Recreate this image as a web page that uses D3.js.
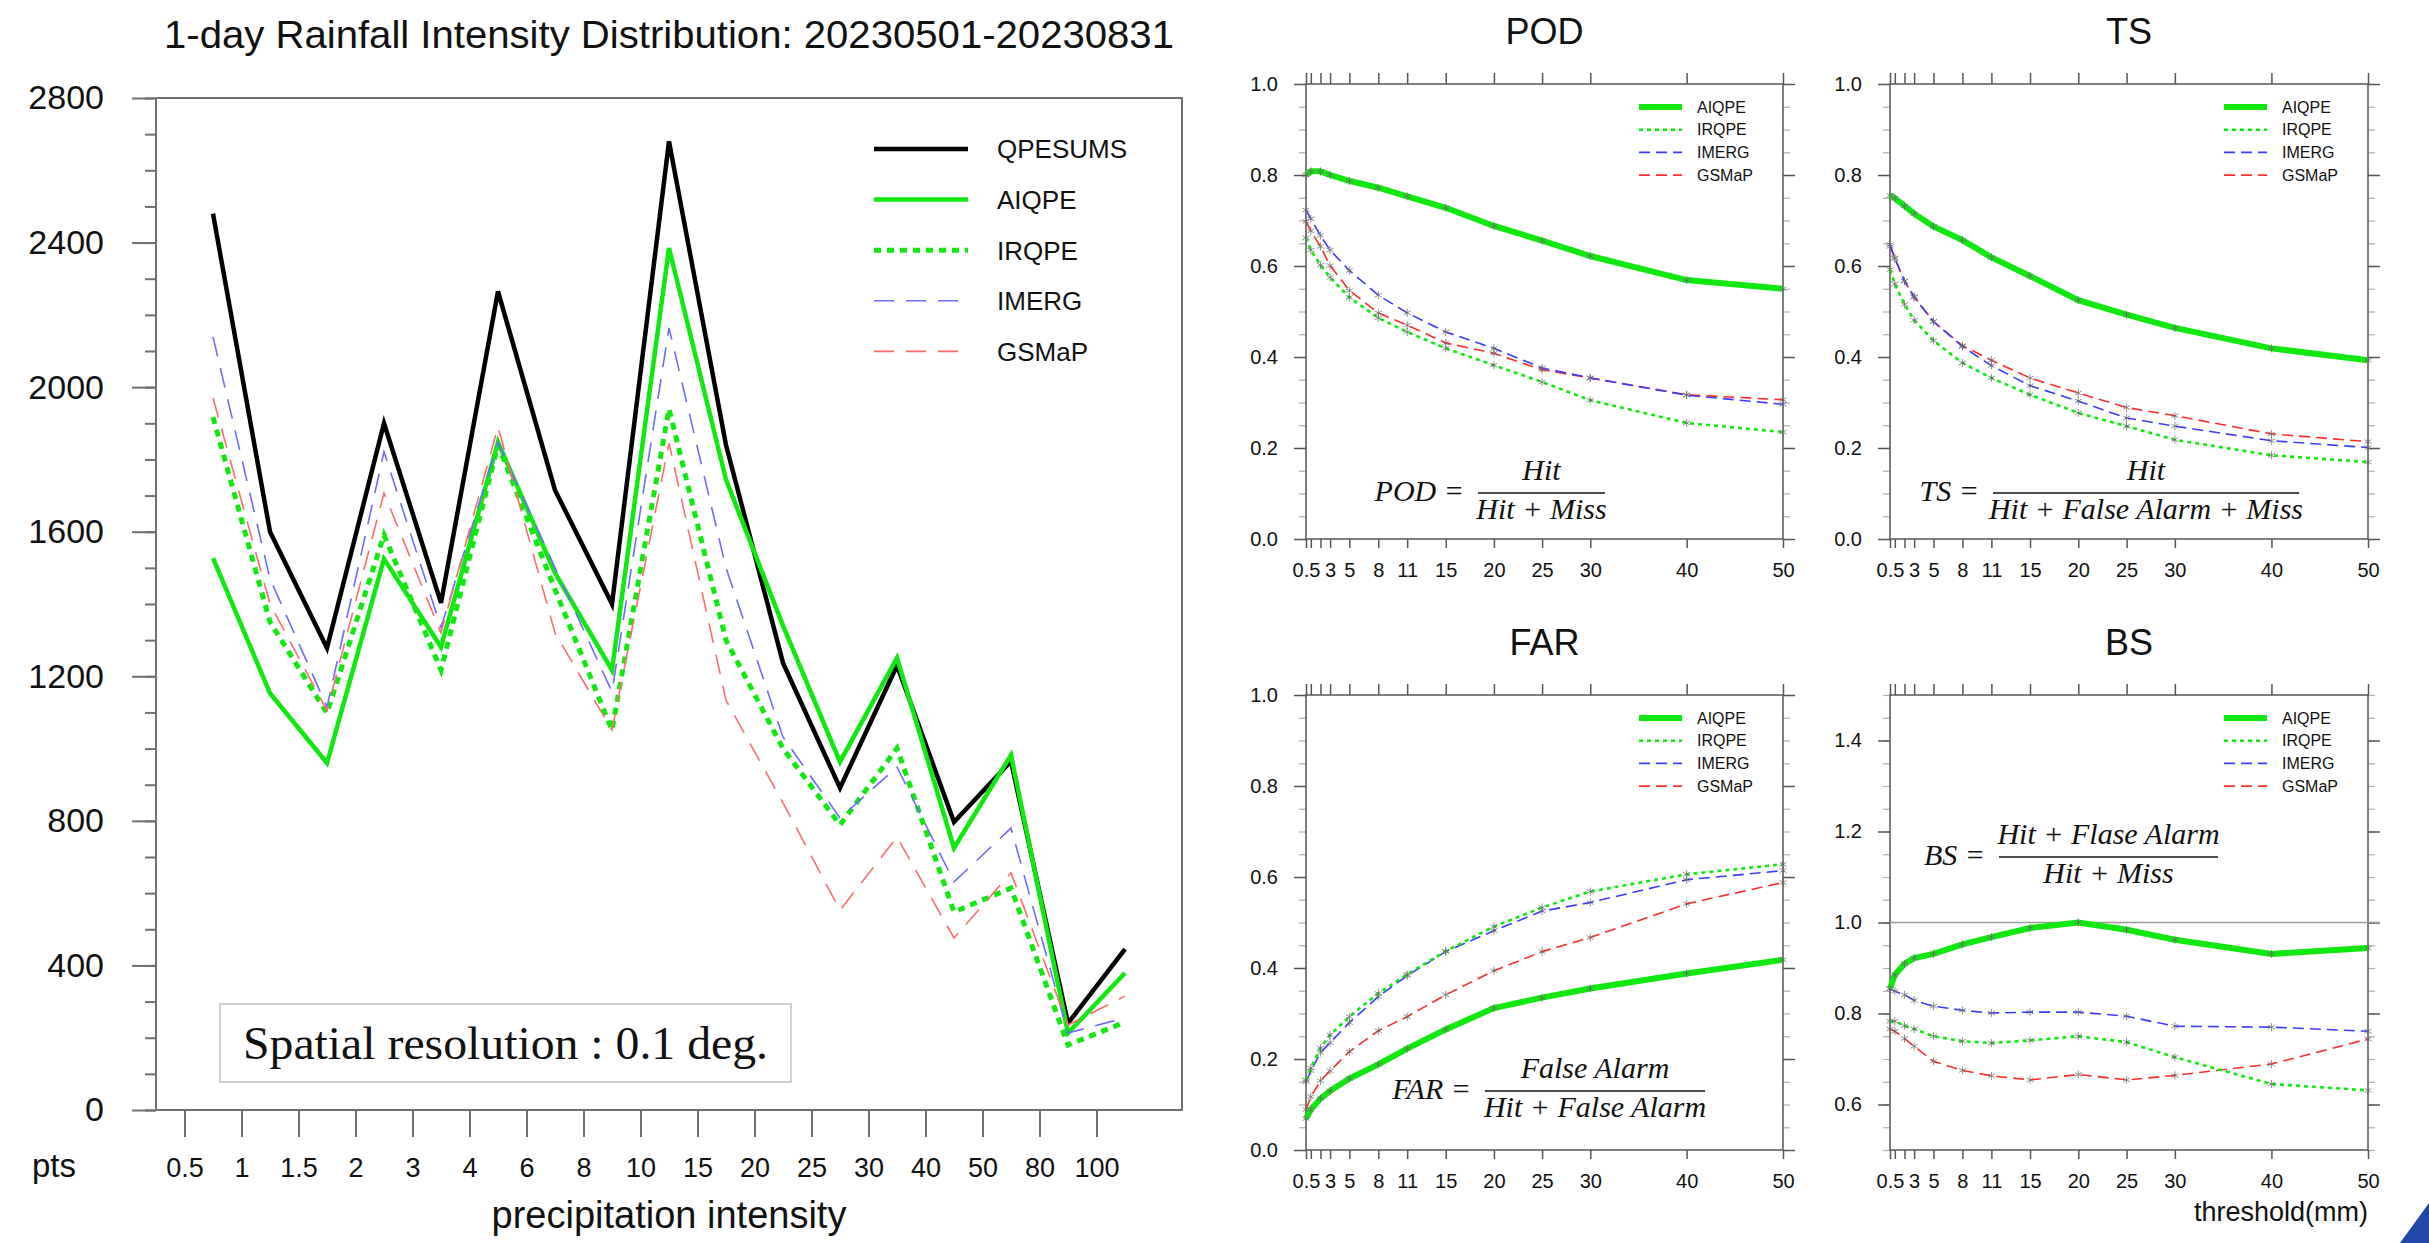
<!DOCTYPE html>
<html>
<head>
<meta charset="utf-8">
<title>Rainfall intensity distribution and verification scores</title>
<script src="https://cdn.jsdelivr.net/npm/d3@7"></script>
<style>
    html, body { margin: 0; padding: 0; background: #fff; }
    svg { display: block; }
    text { font-family: "Liberation Sans", Arial, Helvetica, sans-serif; fill: #111; }
    text.serif { font-family: "Liberation Serif", "Times New Roman", serif; }
    .formula text { font-family: "Liberation Serif", "Times New Roman", serif; font-style: italic; }
</style>
</head>
<body>
<svg id="chart" width="2429" height="1243"></svg>
<script>
// ---- 1-day rainfall intensity distribution (counts per intensity bin) ----
const binLabels = ['0.5', '1', '1.5', '2', '3', '4', '6', '8', '10', '15', '20', '25', '30', '40', '50', '80', '100'];
const countTicks = [0, 400, 800, 1200, 1600, 2000, 2400, 2800];
const qpesumsCount = [2480, 1600, 1278, 1900, 1403, 2265, 1715, 1400, 2680, 1840, 1237, 891, 1230, 797, 965, 240, 445];
const aiqpeCount = [1527, 1153, 960, 1525, 1281, 1848, 1486, 1217, 2385, 1744, 1340, 963, 1251, 725, 982, 213, 379];
const irqpeCount = [1917, 1350, 1098, 1591, 1217, 1840, 1440, 1051, 1940, 1300, 1000, 789, 1001, 548, 614, 180, 243];
const imergCount = [2139, 1470, 1115, 1821, 1335, 1848, 1500, 1157, 2164, 1500, 1032, 808, 949, 631, 780, 213, 255];
const gsmapCount = [1970, 1400, 1105, 1707, 1320, 1890, 1320, 1051, 1845, 1134, 850, 553, 755, 476, 656, 235, 315];

// ---- verification scores against threshold (mm) ----
const thresholds = [0.5, 1, 2, 3, 5, 8, 11, 15, 20, 25, 30, 40, 50];
const thresholdLabels = ['0.5', '', '', '3', '5', '8', '11', '15', '20', '25', '30', '40', '50'];
const scoreTicks = [0, 0.2, 0.4, 0.6, 0.8, 1.0];
const biasTicks = [0.6, 0.8, 1.0, 1.2, 1.4];

const podAIQPE = [0.800, 0.808, 0.808, 0.800, 0.787, 0.772, 0.753, 0.728, 0.688, 0.656, 0.622, 0.569, 0.550];
const podIRQPE = [0.662, 0.635, 0.602, 0.575, 0.531, 0.486, 0.455, 0.419, 0.382, 0.345, 0.305, 0.255, 0.235];
const podIMERG = [0.723, 0.704, 0.667, 0.635, 0.590, 0.536, 0.497, 0.455, 0.419, 0.376, 0.354, 0.316, 0.296];
const podGSMaP = [0.698, 0.677, 0.643, 0.601, 0.546, 0.497, 0.470, 0.431, 0.408, 0.372, 0.354, 0.317, 0.306];

const tsAIQPE = [0.755, 0.749, 0.732, 0.715, 0.687, 0.657, 0.619, 0.578, 0.525, 0.493, 0.464, 0.419, 0.393];
const tsIRQPE = [0.592, 0.561, 0.516, 0.481, 0.436, 0.387, 0.354, 0.317, 0.277, 0.248, 0.218, 0.184, 0.169];
const tsIMERG = [0.647, 0.618, 0.567, 0.531, 0.478, 0.423, 0.381, 0.337, 0.303, 0.266, 0.248, 0.216, 0.201];
const tsGSMaP = [0.643, 0.616, 0.567, 0.533, 0.478, 0.425, 0.393, 0.354, 0.321, 0.289, 0.271, 0.231, 0.214];

const farAIQPE = [0.069, 0.089, 0.113, 0.130, 0.157, 0.188, 0.223, 0.265, 0.312, 0.335, 0.355, 0.388, 0.418];
const farIRQPE = [0.154, 0.180, 0.224, 0.253, 0.293, 0.344, 0.386, 0.437, 0.491, 0.533, 0.568, 0.606, 0.628];
const farIMERG = [0.150, 0.174, 0.214, 0.236, 0.280, 0.337, 0.383, 0.436, 0.482, 0.525, 0.544, 0.594, 0.614];
const farGSMaP = [0.089, 0.117, 0.152, 0.174, 0.216, 0.262, 0.293, 0.341, 0.394, 0.436, 0.467, 0.541, 0.588];

const bsAIQPE = [0.855, 0.885, 0.909, 0.922, 0.931, 0.952, 0.968, 0.988, 1.000, 0.984, 0.962, 0.931, 0.944];
const bsIRQPE = [0.783, 0.783, 0.773, 0.766, 0.750, 0.739, 0.735, 0.741, 0.750, 0.737, 0.704, 0.645, 0.631];
const bsIMERG = [0.854, 0.849, 0.841, 0.829, 0.816, 0.807, 0.801, 0.803, 0.803, 0.794, 0.772, 0.770, 0.761];
const bsGSMaP = [0.766, 0.761, 0.745, 0.728, 0.695, 0.675, 0.663, 0.654, 0.666, 0.654, 0.664, 0.689, 0.744];

const svg = d3.select('#chart');
const GREEN = '#10e810';

// strip the axis path, set tick colours and label size (axis call resets font-size)
function styleAxis(sel, color, width, fontSize) {
    sel.select('.domain').remove();
    sel.attr('font-size', fontSize || 10);
    sel.selectAll('.tick line').attr('stroke', color).attr('stroke-width', width);
    sel.selectAll('.tick text').attr('fill', '#111');
    return sel;
}

// ================= left: intensity distribution =================
function drawDistribution() {
    const box = { left: 156, right: 1182, top: 98, bottom: 1110 };
    const x = d3.scaleLinear().domain([0, binLabels.length + 1]).range([box.left, box.right]);
    const y = d3.scaleLinear().domain([0, 2800]).range([box.bottom, box.top]);
    const g = svg.append('g').attr('class', 'distribution');

    g.append('text')
        .attr('x', 669).attr('y', 48)
        .attr('text-anchor', 'middle')
        .attr('font-size', 39)
        .attr('textLength', 1010)
        .attr('lengthAdjust', 'spacingAndGlyphs')
        .text('1-day Rainfall Intensity Distribution: 20230501-20230831');

    // y axis: minor every 100, labelled every 400
    g.append('g')
        .attr('transform', `translate(${box.left},0)`)
        .call(d3.axisLeft(y).tickValues(d3.range(0, 2801, 100)).tickSize(11).tickFormat(''))
        .call(styleAxis, '#707070', 2);
    g.append('g')
        .attr('transform', `translate(${box.left},0)`)
        .call(d3.axisLeft(y).tickValues(countTicks).tickSize(24).tickPadding(28).tickFormat(d3.format('d')))
        .call(styleAxis, '#707070', 2, 34);

    // x axis: bin edges
    g.append('g')
        .attr('transform', `translate(0,${box.bottom})`)
        .call(d3.axisBottom(x)
            .tickValues(binLabels.map((d, i) => i + 0.5))
            .tickFormat((d, i) => binLabels[i])
            .tickSize(27).tickPadding(21))
        .call(styleAxis, '#707070', 2, 27);

    g.append('rect')
        .attr('x', box.left).attr('y', box.top)
        .attr('width', box.right - box.left).attr('height', box.bottom - box.top)
        .attr('fill', 'none').attr('stroke', '#707070').attr('stroke-width', 2);

    g.append('text').attr('x', 54).attr('y', 1177)
        .attr('text-anchor', 'middle').attr('font-size', 33).text('pts');
    g.append('text').attr('x', 669).attr('y', 1228)
        .attr('text-anchor', 'middle').attr('font-size', 38).text('precipitation intensity');

    const series = [
        { name: 'QPESUMS', values: qpesumsCount, color: '#000', width: 4.5, dash: null },
        { name: 'AIQPE', values: aiqpeCount, color: GREEN, width: 4.5, dash: null },
        { name: 'IRQPE', values: irqpeCount, color: GREEN, width: 5, dash: '7,6' },
        { name: 'IMERG', values: imergCount, color: '#6c6cff', width: 1.6, dash: '20,12' },
        { name: 'GSMaP', values: gsmapCount, color: '#ff6c6c', width: 1.6, dash: '20,12' }
    ];
    const line = d3.line().x((d, i) => x(i + 1)).y(d => y(d));

    series.forEach((s, i) => {
        g.append('path')
            .datum(s.values)
            .attr('d', line)
            .attr('fill', 'none')
            .attr('stroke', s.color)
            .attr('stroke-width', s.width)
            .attr('stroke-linejoin', 'miter')
            .attr('stroke-dasharray', s.dash);
        // legend
        const ly = 149 + i * 50.6;
        g.append('line')
            .attr('x1', 874).attr('x2', 968).attr('y1', ly).attr('y2', ly)
            .attr('stroke', s.color).attr('stroke-width', s.width)
            .attr('stroke-dasharray', s.dash);
        g.append('text')
            .attr('x', 997).attr('y', ly).attr('dy', '0.36em')
            .attr('font-size', 26).text(s.name);
    });

    // resolution note
    g.append('rect')
        .attr('x', 220).attr('y', 1004).attr('width', 571).attr('height', 78)
        .attr('fill', '#fff').attr('stroke', '#cfcfcf').attr('stroke-width', 2);
    g.append('text')
        .attr('class', 'serif')
        .attr('x', 243).attr('y', 1059)
        .attr('font-size', 46)
        .attr('textLength', 525).attr('lengthAdjust', 'spacingAndGlyphs')
        .text('Spatial resolution : 0.1 deg.');
}

// ================= right: score panels =================
function drawScorePanel(opt) {
    const box = opt.box;
    const x = d3.scaleLinear().domain([0.5, 50]).range([box.left, box.right]);
    const y = d3.scaleLinear().domain(opt.domain).range([box.bottom, box.top]);
    const g = svg.append('g').attr('class', 'score-panel');
    const minor = d3.range(opt.domain[0], opt.domain[1] + 0.001, 0.05).map(d => +d.toFixed(2));

    g.append('text')
        .attr('x', (box.left + box.right) / 2).attr('y', box.top - 40)
        .attr('text-anchor', 'middle').attr('font-size', 36)
        .text(opt.title);

    // minor ticks left & right
    g.append('g').attr('transform', `translate(${box.left},0)`)
        .call(d3.axisLeft(y).tickValues(minor).tickSize(7).tickFormat(''))
        .call(styleAxis, '#b0b0b0', 1.2);
    g.append('g').attr('transform', `translate(${box.right},0)`)
        .call(d3.axisRight(y).tickValues(minor).tickSize(7).tickFormat(''))
        .call(styleAxis, '#b0b0b0', 1.2);
    // major ticks
    g.append('g').attr('transform', `translate(${box.left},0)`)
        .call(d3.axisLeft(y).tickValues(opt.ticks).tickSize(12).tickPadding(16).tickFormat(d3.format('.1f')))
        .call(styleAxis, '#555', 1.5, 20);
    g.append('g').attr('transform', `translate(${box.right},0)`)
        .call(d3.axisRight(y).tickValues(opt.ticks).tickSize(12).tickFormat(''))
        .call(styleAxis, '#555', 1.5);
    g.append('g').attr('transform', `translate(0,${box.top})`)
        .call(d3.axisTop(x).tickValues(thresholds).tickSize(11).tickFormat(''))
        .call(styleAxis, '#555', 1.5);
    g.append('g').attr('transform', `translate(0,${box.bottom})`)
        .call(d3.axisBottom(x).tickValues(thresholds).tickSize(9)
            .tickPadding(15).tickFormat((d, i) => thresholdLabels[i]))
        .call(styleAxis, '#555', 1.5, 20);

    g.append('rect')
        .attr('x', box.left).attr('y', box.top)
        .attr('width', box.right - box.left).attr('height', box.bottom - box.top)
        .attr('fill', 'none').attr('stroke', '#555').attr('stroke-width', 1.5);

    if (opt.refLine !== undefined) {
        g.append('line')
            .attr('x1', box.left).attr('x2', box.right + 12)
            .attr('y1', y(opt.refLine)).attr('y2', y(opt.refLine))
            .attr('stroke', '#9a9a9a').attr('stroke-width', 1.5);
    }

    const styles = [
        { name: 'AIQPE', color: GREEN, width: 6, dash: null },
        { name: 'IRQPE', color: GREEN, width: 2.6, dash: '4,4' },
        { name: 'IMERG', color: '#3c3cff', width: 1.6, dash: '11,6' },
        { name: 'GSMaP', color: '#ff2c2c', width: 1.6, dash: '11,6' }
    ];
    const line = d3.line().x((d, i) => x(thresholds[i])).y(d => y(d));
    const marker = d3.symbol().type(d3.symbolAsterisk || d3.symbolCross).size(45);

    // draw back to front, AIQPE last
    [3, 2, 1, 0].forEach(k => {
        const s = styles[k];
        g.append('path')
            .datum(opt.values[k])
            .attr('d', line)
            .attr('fill', 'none')
            .attr('stroke', s.color)
            .attr('stroke-width', s.width)
            .attr('stroke-dasharray', s.dash);
        g.selectAll(null)
            .data(opt.values[k])
            .join('path')
            .attr('transform', (d, i) => `translate(${x(thresholds[i])},${y(d)})`)
            .attr('d', marker)
            .attr('fill', 'none')
            .attr('stroke', '#6a6a6a')
            .attr('stroke-opacity', 0.75)
            .attr('stroke-width', 1);
    });

    // legend
    styles.forEach((s, i) => {
        const ly = box.top + 23 + i * 22.7;
        g.append('line')
            .attr('x1', box.right - 144).attr('x2', box.right - 101)
            .attr('y1', ly).attr('y2', ly)
            .attr('stroke', s.color).attr('stroke-width', s.width)
            .attr('stroke-dasharray', s.dash);
        g.append('text')
            .attr('x', box.right - 86).attr('y', ly).attr('dy', '0.36em')
            .attr('font-size', 16).text(s.name);
    });

    // formula
    const f = opt.formula;
    const fg = g.append('g').attr('class', 'formula');
    fg.append('text')
        .attr('x', f.x1 - 14).attr('y', f.y + 8)
        .attr('text-anchor', 'end').attr('font-size', 30)
        .text(opt.title + ' =');
    fg.append('line')
        .attr('x1', f.x1).attr('x2', f.x2).attr('y1', f.y).attr('y2', f.y)
        .attr('stroke', '#111').attr('stroke-width', 1.6);
    fg.append('text')
        .attr('x', (f.x1 + f.x2) / 2).attr('y', f.y - 13)
        .attr('text-anchor', 'middle').attr('font-size', 30)
        .text(f.num);
    fg.append('text')
        .attr('x', (f.x1 + f.x2) / 2).attr('y', f.y + 26)
        .attr('text-anchor', 'middle').attr('font-size', 30)
        .text(f.den);
}

drawDistribution();

drawScorePanel({
    title: 'POD',
    box: { left: 1306, right: 1783, top: 84, bottom: 539 },
    domain: [0, 1], ticks: scoreTicks,
    values: [podAIQPE, podIRQPE, podIMERG, podGSMaP],
    formula: { x1: 1478, x2: 1605, y: 493, num: 'Hit', den: 'Hit + Miss' }
});
drawScorePanel({
    title: 'TS',
    box: { left: 1890, right: 2368, top: 84, bottom: 539 },
    domain: [0, 1], ticks: scoreTicks,
    values: [tsAIQPE, tsIRQPE, tsIMERG, tsGSMaP],
    formula: { x1: 1993, x2: 2299, y: 493, num: 'Hit', den: 'Hit + False Alarm + Miss' }
});
drawScorePanel({
    title: 'FAR',
    box: { left: 1306, right: 1783, top: 695, bottom: 1150 },
    domain: [0, 1], ticks: scoreTicks,
    values: [farAIQPE, farIRQPE, farIMERG, farGSMaP],
    formula: { x1: 1485, x2: 1705, y: 1091, num: 'False Alarm', den: 'Hit + False Alarm' }
});
drawScorePanel({
    title: 'BS',
    box: { left: 1890, right: 2368, top: 695, bottom: 1150 },
    domain: [0.5, 1.5], ticks: biasTicks, refLine: 1.0,
    values: [bsAIQPE, bsIRQPE, bsIMERG, bsGSMaP],
    formula: { x1: 1999, x2: 2218, y: 857, num: 'Hit + Flase Alarm', den: 'Hit + Miss' }
});

svg.append('text')
    .attr('x', 2368).attr('y', 1221)
    .attr('text-anchor', 'end').attr('font-size', 27)
    .text('threshold(mm)');

// slide corner decoration
svg.append('path')
    .attr('d', 'M2429,1203 L2429,1243 L2400,1243 Z')
    .attr('fill', '#1f48a8');
</script>
</body>
</html>
